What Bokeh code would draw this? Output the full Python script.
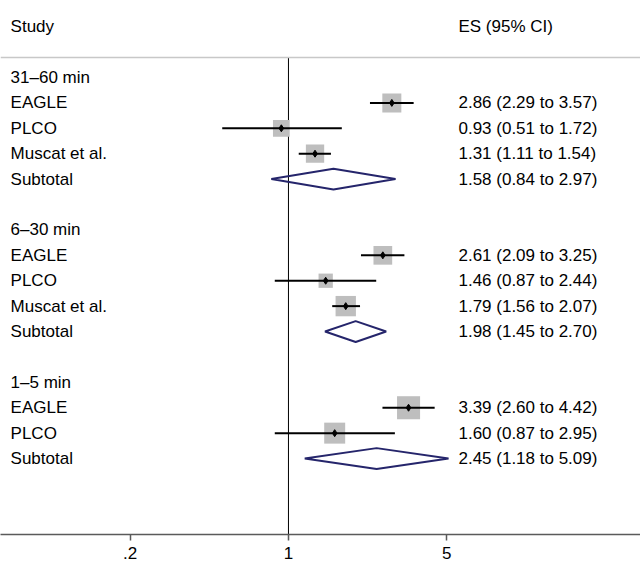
from bokeh.plotting import figure
from bokeh.models import ColumnDataSource, Range1d, Span, FixedTicker, CustomJSTickFormatter
from bokeh.core.properties import value
from bokeh.embed import file_html
from bokeh.resources import INLINE

# ---------------- data ----------------
groups = ["31\u201360 min", "6\u201330 min", "1\u20135 min"]
study_group = [0, 0, 0, 1, 1, 1, 2, 2]
study_names = ["EAGLE", "PLCO", "Muscat et al.", "EAGLE", "PLCO", "Muscat et al.", "EAGLE", "PLCO"]
es = [2.86, 0.93, 1.31, 2.61, 1.46, 1.79, 3.39, 1.60]
lo = [2.29, 0.51, 1.11, 2.09, 0.87, 1.56, 2.60, 0.87]
hi = [3.57, 1.72, 1.54, 3.25, 2.44, 2.07, 4.42, 2.95]
weights = [12.4, 9.6, 11.5, 12.0, 7.0, 14.2, 18.2, 15.1]
sub_es = [1.58, 1.98, 2.45]
sub_lo = [0.84, 1.45, 1.18]
sub_hi = [2.97, 2.70, 5.09]
ticks = [0.2, 1, 5]

# ---------------- layout constants ----------------
FONT = "Liberation Sans"
FS = "17px"
X_LEFT, X_RIGHT = 0.05353, 35.83
Y_TOP, Y_BOT = -3.031, 17.99
LABEL_X = 0.0593
ES_X = 5.63
HEADER_Y = -2
SEP_Y = -0.787
DIAMOND_H = 0.41
BOX_K = 5.4

# ---------------- build rows ----------------
lab_y, lab_t = [], []
es_y, es_t = [], []
st_y = []
sub_y = []
r = 0
for g, gname in enumerate(groups):
    lab_y.append(r); lab_t.append(gname)
    r += 1
    for i, sg in enumerate(study_group):
        if sg != g:
            continue
        lab_y.append(r); lab_t.append(study_names[i])
        es_y.append(r); es_t.append(f"{es[i]:.2f} ({lo[i]:.2f} to {hi[i]:.2f})")
        st_y.append(r)
        r += 1
    lab_y.append(r); lab_t.append("Subtotal")
    es_y.append(r); es_t.append(f"{sub_es[g]:.2f} ({sub_lo[g]:.2f} to {sub_hi[g]:.2f})")
    sub_y.append(r)
    r += 2

p = figure(width=640, height=567, x_axis_type="log",
           x_range=Range1d(X_LEFT, X_RIGHT), y_range=Range1d(Y_BOT, Y_TOP),
           output_backend="svg", toolbar_location=None, y_axis_location=None,
           min_border_left=0, min_border_right=0, min_border_top=0, min_border_bottom=33)
p.outline_line_color = None
p.xgrid.visible = False
p.ygrid.visible = False
p.background_fill_color = "white"
p.border_fill_color = "white"

# header separator
p.add_layout(Span(location=SEP_Y, dimension="width", line_color="#C8C8C8", line_width=1.5))
# line of no effect
p.segment(x0=[1], y0=[SEP_Y], x1=[1], y1=[Y_BOT], line_color="black", line_width=1)

# study boxes, CIs, points
src = ColumnDataSource(dict(y=st_y, es=es, lo=lo, hi=hi,
                            size=[BOX_K * w ** 0.5 for w in weights]))
p.scatter(x="es", y="y", size="size", marker="square", source=src,
          fill_color="#BEBEBE", line_color=None)
p.segment(x0="lo", y0="y", x1="hi", y1="y", source=src, line_color="black", line_width=2)
p.scatter(x="es", y="y", size=7, marker="diamond", source=src,
          fill_color="black", line_color="black")

# subtotal diamonds
xs = [[sub_lo[g], sub_es[g], sub_hi[g], sub_es[g]] for g in range(len(groups))]
ys = [[y, y - DIAMOND_H, y, y + DIAMOND_H] for y in sub_y]
p.patches(xs=xs, ys=ys, fill_color=None, line_color="#25256B", line_width=2)

# texts
p.text(x=[LABEL_X], y=[HEADER_Y], text=["Study"], text_font=value(FONT),
       text_font_size=value(FS), text_baseline="middle", text_align="left", text_color="black")
p.text(x=[ES_X], y=[HEADER_Y], text=["ES (95% CI)"], text_font=value(FONT),
       text_font_size=value(FS), text_baseline="middle", text_align="left", text_color="black")
p.text(x=[LABEL_X] * len(lab_y), y=lab_y, text=lab_t, text_font=value(FONT),
       text_font_size=value(FS), text_baseline="middle", text_align="left", text_color="black")
p.text(x=[ES_X] * len(es_y), y=es_y, text=es_t, text_font=value(FONT),
       text_font_size=value(FS), text_baseline="middle", text_align="left", text_color="black")

# axis
ax = p.xaxis[0]
ax.ticker = FixedTicker(ticks=ticks, minor_ticks=[])
ax.formatter = CustomJSTickFormatter(code="return tick < 1 ? String(tick).replace(/^0/, '') : String(tick);")
ax.axis_line_color = "#5A5A5A"
ax.axis_line_width = 1.5
ax.major_tick_line_color = "#5A5A5A"
ax.major_tick_line_width = 1.5
ax.major_tick_in = 0
ax.major_tick_out = 6
ax.minor_tick_line_color = None
ax.major_label_standoff = 6
ax.major_label_text_font = FONT
ax.major_label_text_font_size = FS
ax.major_label_text_color = "black"

open("out.html", "w").write(file_html(p, INLINE))
